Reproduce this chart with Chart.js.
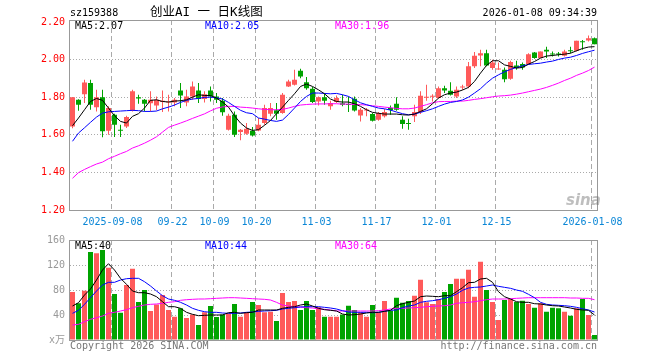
<!DOCTYPE html>
<html>
<head>
<meta charset="utf-8">
<script src="https://cdn.jsdelivr.net/npm/chart.js"></script>
<style>
    body { margin: 0; background: #fff; }
    #wrap { position: relative; width: 660px; height: 360px; overflow: hidden; font-family: 'DejaVu Sans Mono', 'Noto Sans CJK SC', monospace; font-size: 10px; }
    canvas { position: absolute; left: 0; top: 0; }
    .txt { position: absolute; line-height: 12px; white-space: pre; }
</style>
</head>
<body>
<div id="wrap">
    <canvas id="kline" width="660" height="360"></canvas>
    <canvas id="volume" width="660" height="360"></canvas>
    <div class="txt" style="left:70px; top:7px; color:#000;">sz159388</div>
    <div class="txt" style="left:150px; top:5px; font-size:12.5px; line-height:14px; color:#000; font-family:'DejaVu Sans Mono','Noto Sans CJK SC',monospace;">创业AI 一 日K线图</div>
    <div class="txt" style="left:0; width:597px; text-align:right; top:7px; color:#000;">2026-01-08 09:34:39</div>
    <div class="txt" style="left:75px; top:20px; color:#000;">MA5:2.07</div>
    <div class="txt" style="left:205px; top:20px; color:#0000ff;">MA10:2.05</div>
    <div class="txt" style="left:335px; top:20px; color:#ff00ff;">MA30:1.96</div>
    <div class="txt" style="left:75px; top:240px; color:#000;">MA5:40</div>
    <div class="txt" style="left:205px; top:240px; color:#0000ff;">MA10:44</div>
    <div class="txt" style="left:335px; top:240px; color:#ff00ff;">MA30:64</div>
    <div class="txt" style="left:70px; top:340px; color:#777;">Copyright 2026 SINA.COM</div>
    <div class="txt" style="left:0; width:597px; text-align:right; top:340px; color:#777;">http://finance.sina.com.cn</div>
    <div class="txt" style="left:566px; top:192px; font-family:'DejaVu Sans',sans-serif; font-size:15px; line-height:16px; font-weight:bold; font-style:italic; color:rgba(110,110,110,0.45);">sina</div>
</div>
<script>
// trading days shown on the chart
const dates = [
    '2025-08-28', '2025-08-29',
    '2025-09-01', '2025-09-02', '2025-09-03', '2025-09-04', '2025-09-05',
    '2025-09-08', '2025-09-09', '2025-09-10', '2025-09-11', '2025-09-12',
    '2025-09-15', '2025-09-16', '2025-09-17', '2025-09-18', '2025-09-19',
    '2025-09-22', '2025-09-23', '2025-09-24', '2025-09-25', '2025-09-26',
    '2025-09-29', '2025-09-30', '2025-10-09', '2025-10-10',
    '2025-10-13', '2025-10-14', '2025-10-15', '2025-10-16', '2025-10-17',
    '2025-10-20', '2025-10-21', '2025-10-22', '2025-10-23', '2025-10-24',
    '2025-10-27', '2025-10-28', '2025-10-29', '2025-10-30', '2025-10-31',
    '2025-11-03', '2025-11-04', '2025-11-05', '2025-11-06', '2025-11-07',
    '2025-11-10', '2025-11-11', '2025-11-12', '2025-11-13', '2025-11-14',
    '2025-11-17', '2025-11-18', '2025-11-19', '2025-11-20', '2025-11-21',
    '2025-11-24', '2025-11-25', '2025-11-26', '2025-11-27', '2025-11-28',
    '2025-12-01', '2025-12-02', '2025-12-03', '2025-12-04', '2025-12-05',
    '2025-12-08', '2025-12-09', '2025-12-10', '2025-12-11', '2025-12-12',
    '2025-12-15', '2025-12-16', '2025-12-17', '2025-12-18', '2025-12-19',
    '2025-12-22', '2025-12-23', '2025-12-24', '2025-12-25', '2025-12-26',
    '2025-12-29', '2025-12-30', '2025-12-31',
    '2026-01-05', '2026-01-06', '2026-01-07', '2026-01-08'
];

const opens = [
    1.645, 1.787, 1.817, 1.876, 1.747, 1.801, 1.622, 1.707, 1.628, 1.645,
    1.729, 1.801, 1.787, 1.769, 1.757, 1.775, 1.773, 1.773, 1.837, 1.773,
    1.805, 1.837, 1.791, 1.837, 1.805, 1.782, 1.628, 1.707, 1.615, 1.606,
    1.622, 1.624, 1.663, 1.713, 1.731, 1.716, 1.858, 1.867, 1.942, 1.881,
    1.846, 1.778, 1.800, 1.752, 1.775, 1.768, 1.764, 1.793, 1.704, 1.730,
    1.711, 1.681, 1.699, 1.743, 1.766, 1.681, 1.661, 1.699, 1.722, 1.798,
    1.803, 1.796, 1.849, 1.835, 1.805, 1.853, 1.858, 1.965, 2.023, 2.035,
    1.956, 1.949, 1.947, 1.899, 1.970, 1.977, 1.977, 2.039, 2.009, 2.053,
    2.034, 2.034, 2.021, 2.051, 2.048, 2.099, 2.103, 2.115
];
const closes = [
    1.800, 1.761, 1.879, 1.761, 1.801, 1.619, 1.743, 1.654, 1.622, 1.695,
    1.832, 1.794, 1.766, 1.787, 1.787, 1.782, 1.778, 1.787, 1.810, 1.805,
    1.858, 1.791, 1.817, 1.805, 1.787, 1.720, 1.702, 1.601, 1.628, 1.633,
    1.597, 1.654, 1.743, 1.743, 1.713, 1.814, 1.885, 1.894, 1.911, 1.849,
    1.775, 1.800, 1.782, 1.770, 1.796, 1.761, 1.759, 1.730, 1.734, 1.734,
    1.676, 1.716, 1.722, 1.732, 1.734, 1.658, 1.658, 1.722, 1.809, 1.801,
    1.807, 1.849, 1.837, 1.814, 1.840, 1.858, 1.965, 2.021, 2.035, 1.970,
    1.986, 1.952, 1.897, 1.988, 1.956, 1.959, 2.030, 2.009, 2.044, 2.044,
    2.028, 2.028, 2.044, 2.046, 2.101, 2.094, 2.115, 2.083
];
const highs = [
    1.802, 1.790, 1.894, 1.894, 1.840, 1.840, 1.752, 1.713, 1.654, 1.702,
    1.840, 1.814, 1.791, 1.832, 1.805, 1.837, 1.814, 1.796, 1.876, 1.840,
    1.885, 1.876, 1.832, 1.858, 1.823, 1.796, 1.713, 1.725, 1.631, 1.663,
    1.642, 1.690, 1.761, 1.770, 1.770, 1.823, 1.894, 1.947, 1.952, 1.908,
    1.855, 1.805, 1.819, 1.782, 1.810, 1.814, 1.805, 1.805, 1.743, 1.743,
    1.716, 1.722, 1.738, 1.757, 1.800, 1.699, 1.686, 1.761, 1.832, 1.867,
    1.817, 1.858, 1.862, 1.881, 1.858, 1.867, 1.988, 2.041, 2.053, 2.053,
    2.000, 1.986, 1.959, 1.995, 1.995, 1.986, 2.035, 2.041, 2.044, 2.069,
    2.044, 2.041, 2.053, 2.069, 2.101, 2.106, 2.129, 2.119
];
const lows = [
    1.635, 1.729, 1.770, 1.734, 1.725, 1.587, 1.601, 1.589, 1.589, 1.637,
    1.725, 1.766, 1.725, 1.725, 1.731, 1.722, 1.725, 1.752, 1.743, 1.752,
    1.787, 1.770, 1.773, 1.778, 1.770, 1.702, 1.624, 1.589, 1.571, 1.601,
    1.592, 1.619, 1.654, 1.699, 1.681, 1.713, 1.855, 1.863, 1.902, 1.840,
    1.770, 1.757, 1.761, 1.734, 1.770, 1.752, 1.722, 1.725, 1.672, 1.699,
    1.672, 1.676, 1.693, 1.707, 1.729, 1.633, 1.628, 1.669, 1.711, 1.782,
    1.778, 1.793, 1.823, 1.810, 1.796, 1.840, 1.849, 1.956, 1.965, 1.965,
    1.947, 1.947, 1.881, 1.894, 1.947, 1.947, 1.973, 2.005, 2.009, 2.009,
    2.018, 2.018, 2.018, 2.035, 2.044, 2.053, 2.098, 2.083
];

const ma5 = [
    1.649, 1.690, 1.734, 1.778, 1.794, 1.784, 1.743, 1.702, 1.672, 1.663,
    1.699, 1.713, 1.743, 1.784, 1.787, 1.778, 1.775, 1.780, 1.782, 1.787,
    1.801, 1.814, 1.810, 1.810, 1.796, 1.775, 1.748, 1.702, 1.663, 1.637,
    1.624, 1.628, 1.651, 1.677, 1.713, 1.748, 1.784, 1.819, 1.858, 1.871,
    1.858, 1.840, 1.819, 1.791, 1.778, 1.775, 1.775, 1.766, 1.752, 1.734,
    1.720, 1.715, 1.711, 1.711, 1.711, 1.707, 1.706, 1.711, 1.725, 1.739,
    1.766, 1.796, 1.814, 1.823, 1.828, 1.839, 1.853, 1.885, 1.929, 1.970,
    1.995, 1.995, 1.973, 1.965, 1.956, 1.959, 1.977, 1.991, 2.009, 2.020,
    2.023, 2.027, 2.030, 2.035, 2.048, 2.060, 2.068, 2.070
];
const ma10 = [
    1.566, 1.610, 1.638, 1.667, 1.695, 1.716, 1.723, 1.725, 1.727, 1.729,
    1.731, 1.729, 1.725, 1.725, 1.727, 1.739, 1.748, 1.759, 1.773, 1.784,
    1.791, 1.794, 1.800, 1.801, 1.798, 1.791, 1.773, 1.752, 1.731, 1.718,
    1.713, 1.690, 1.684, 1.677, 1.672, 1.679, 1.709, 1.743, 1.778, 1.805,
    1.823, 1.823, 1.821, 1.819, 1.821, 1.814, 1.805, 1.787, 1.771, 1.761,
    1.752, 1.743, 1.739, 1.732, 1.722, 1.713, 1.707, 1.711, 1.720, 1.729,
    1.739, 1.752, 1.764, 1.773, 1.778, 1.786, 1.801, 1.823, 1.846, 1.876,
    1.902, 1.920, 1.936, 1.949, 1.959, 1.968, 1.975, 1.979, 1.982, 1.988,
    1.993, 2.002, 2.009, 2.014, 2.023, 2.034, 2.043, 2.051
];
const ma30 = [
    1.369, 1.399, 1.416, 1.431, 1.445, 1.455, 1.473, 1.486, 1.500, 1.512,
    1.530, 1.542, 1.556, 1.572, 1.590, 1.615, 1.640, 1.652, 1.663, 1.675,
    1.688, 1.700, 1.712, 1.728, 1.742, 1.749, 1.752, 1.752, 1.748, 1.746,
    1.743, 1.739, 1.736, 1.734, 1.734, 1.736, 1.743, 1.752, 1.759, 1.762,
    1.764, 1.765, 1.765, 1.766, 1.766, 1.764, 1.764, 1.762, 1.761, 1.759,
    1.755, 1.752, 1.748, 1.745, 1.741, 1.739, 1.739, 1.743, 1.752, 1.761,
    1.771, 1.777, 1.778, 1.778, 1.780, 1.780, 1.784, 1.789, 1.793, 1.798,
    1.803, 1.807, 1.809, 1.812, 1.817, 1.823, 1.830, 1.837, 1.844, 1.853,
    1.864, 1.876, 1.890, 1.902, 1.917, 1.929, 1.943, 1.961
];

// volume in 万
const volumes = [
    77, 58.7, 79, 141, 139, 144, 115.7, 73.6, 43.7, 88,
    114, 60.8, 80, 46.4, 57, 72, 48, 37.3, 50.7, 35.2,
    41, 24, 44.3, 54.4, 36.8, 41, 42.7, 57.6, 37.3, 44.3,
    60.8, 56, 44.3, 45.3, 30.4, 75.2, 60.8, 62.4, 48, 62.4,
    48, 52.3, 37.3, 37.3, 37.3, 41, 54.7, 48, 44.3, 37.3,
    56, 44.3, 62.4, 47, 67.7, 59.7, 62.4, 70.9, 96.5, 60.3,
    57.6, 65.6, 76.8, 89.6, 98, 98, 112.5, 69.3, 125.3, 80,
    60.8, 32, 64, 65.6, 60.8, 62.9, 57.6, 51.7, 58.7, 45.3,
    51.7, 50.7, 45.3, 38.9, 50.7, 65.6, 40, 8
];
const volMa5 = [
    54.4, 59.7, 72, 81.6, 96, 112, 122.1, 112, 98.7, 89.1,
    78.4, 75.7, 75.7, 73.6, 69.3, 61.3, 53.3, 53.3, 50.7, 44.3,
    41.1, 38.9, 39.5, 40, 40, 40, 43.7, 44.3, 42.7, 43.7,
    44.3, 48, 48, 48, 48, 50.7, 52.3, 53.3, 56, 57.6,
    54.4, 50.7, 48.5, 47.5, 46.4, 41.6, 40, 40.5, 41.6, 43.2,
    44.3, 44.3, 45.9, 47.5, 54.9, 58.1, 60.3, 62.4, 69.3, 70.4,
    69.9, 69.3, 70.9, 70.9, 77.3, 83.7, 91.7, 92.3, 97.6, 98.7,
    92.3, 77.3, 69.3, 65.6, 61.3, 60.3, 60.3, 58.1, 57.6, 56,
    54.9, 54.4, 52.8, 51.2, 49.1, 48, 47.5, 40
];
const volMa10 = [
    42.7, 47.5, 57.1, 67.7, 78.4, 88, 92.3, 92.3, 96, 98.1,
    98.7, 98.7, 93.3, 86.4, 78.4, 70.9, 65.6, 63.5, 60.3, 56,
    50.7, 47.5, 45.3, 44.3, 44.3, 43.2, 42.7, 42.7, 43.2, 44.3,
    44.8, 45.9, 46.4, 46.9, 47.5, 49.6, 50.7, 51.7, 52.8, 53.3,
    53.3, 53.3, 52.3, 51.2, 49.6, 46.9, 44.8, 44.3, 44.3, 44.3,
    43.7, 44.3, 45.9, 47.5, 48, 51.7, 54.4, 56, 60.3, 61.9,
    62.9, 64.5, 66.7, 69.3, 73.6, 79.5, 83.2, 84.3, 84.8, 86.4,
    88, 85.9, 84.3, 82.7, 80, 77.9, 73.1, 67.7, 60.3, 57.1,
    56, 55.5, 54.9, 53.9, 52.3, 50.1, 48, 44.8
];
const volMa30 = [
    24, 25.1, 29.3, 33.1, 35.7, 38.4, 42.7, 44.3, 46.4, 48.5,
    51.7, 53.9, 56, 57.1, 57.6, 58.7, 60.3, 61.3, 63.5, 64.5,
    65.1, 65.6, 65.6, 66.1, 66.7, 67.2, 67.7, 67.7, 67.2, 66.7,
    66.1, 65.6, 65.1, 64, 60.3, 56, 54.4, 53.3, 52.8, 51.7,
    51.2, 50.1, 49.1, 48, 46.4, 46.4, 46.4, 46.4, 46.4, 46.4,
    46.4, 46.9, 48, 49.6, 50.7, 50.7, 51.2, 51.7, 52.3, 53.3,
    53.9, 54.4, 54.9, 56, 58.7, 59.7, 60.3, 61.3, 62.9, 64.5,
    65.6, 65.6, 65.6, 66.1, 66.7, 67.2, 67.7, 67.7, 67.7, 67.7,
    67.7, 67.7, 67.7, 67.2, 67.2, 66.7, 66.7, 64.5
];

// axis ticks
const priceTicks = [1.2, 1.4, 1.6, 1.8, 2.0, 2.2];
const volumeTicks = [0, 40, 80, 120, 160];
const tickDates = ['2025-09-08', '2025-09-22', '2025-10-09', '2025-10-20', '2025-11-03',
    '2025-11-17', '2025-12-01', '2025-12-15', '2026-01-08'];
const tickTexts = ['2025-09-08', '09-22', '10-09', '10-20', '11-03',
    '11-17', '12-01', '12-15', '2026-01-08'];

const RED = '#ff5a5a';
const GREEN = '#00a300';
const GRID = '#aaaaaa';
const MONO = "'DejaVu Sans Mono', 'Noto Sans CJK SC', monospace";

const candleColors = opens.map((o, i) => closes[i] >= o ? RED : GREEN);
const bodies = opens.map((o, i) => [o, closes[i]]);
const wicks = lows.map((l, i) => [l, highs[i]]);
const tickIndex = tickDates.map(d => dates.indexOf(d));

const framePlugin = {
    id: 'frame',
    afterDraw(chart) {
        const a = chart.chartArea;
        const ctx = chart.ctx;
        ctx.save();
        ctx.strokeStyle = '#999999';
        ctx.lineWidth = 1;
        const l = Math.floor(a.left) + 0.5, r = Math.floor(a.right) + 0.5;
        const t = Math.floor(a.top) + 0.5, b = Math.floor(a.bottom) + 0.5;
        ctx.strokeRect(l, t, r - l, b - t);
        ctx.restore();
    }
};

function xScale(showLabels) {
    return {
        offset: true,
        grid: {
            offset: true,
            drawTicks: false,
            lineWidth: 1,
            color: ctx => tickIndex.includes(ctx.index) ? GRID : 'rgba(0,0,0,0)'
        },
        border: { display: false, dash: [5, 3] },
        ticks: {
            display: showLabels,
            autoSkip: false,
            maxRotation: 0,
            minRotation: 0,
            padding: 6,
            labelOffset: -2,
            color: '#0a86d6',
            font: { family: MONO, size: 10 },
            callback: function(val, i) {
                const k = tickIndex.indexOf(i);
                return k >= 0 ? tickTexts[k] : '';
            }
        },
        afterFit: scale => { scale.height = showLabels ? 25 : 0; }
    };
}

function yScale(min, max, ticks, color, fmt) {
    return {
        min: min,
        max: max,
        grid: {
            drawTicks: false,
            color: ctx => (ctx.tick && ctx.tick.value > min && ctx.tick.value < ticks[ticks.length - 1]) ? GRID : 'rgba(0,0,0,0)'
        },
        border: { display: false, dash: [1, 2] },
        afterBuildTicks: scale => { scale.ticks = ticks.map(v => ({ value: v })); },
        afterFit: scale => { scale.width = 69.5; },
        ticks: {
            padding: 4.5,
            color: color,
            font: { family: MONO, size: 10 },
            callback: fmt
        }
    };
}

function lineSet(data, color) {
    return {
        type: 'line',
        data: data,
        borderColor: color,
        borderWidth: 1,
        pointRadius: 0,
        tension: 0,
        fill: false,
        order: 0
    };
}

new Chart(document.getElementById('kline'), {
    type: 'bar',
    data: {
        labels: dates,
        datasets: [
            lineSet(ma5, '#000000'),
            lineSet(ma10, '#0000ff'),
            lineSet(ma30, '#ff00ff'),
            {
                data: wicks,
                backgroundColor: candleColors,
                barThickness: 1,
                grouped: false,
                inflateAmount: 0,
                order: 2
            },
            {
                data: bodies,
                backgroundColor: candleColors,
                barThickness: 5,
                minBarLength: 1,
                grouped: false,
                inflateAmount: 0,
                order: 1
            }
        ]
    },
    options: {
        animation: false,
        responsive: false,
        devicePixelRatio: 1,
        layout: { padding: { top: 20, right: 62.5, bottom: 125, left: 0 } },
        plugins: { legend: { display: false }, tooltip: { enabled: false } },
        scales: {
            x: xScale(true),
            y: yScale(1.2, 2.212, priceTicks, '#ff0000', v => v.toFixed(2))
        }
    },
    plugins: [framePlugin]
});

new Chart(document.getElementById('volume'), {
    type: 'bar',
    data: {
        labels: dates,
        datasets: [
            lineSet(volMa5, '#000000'),
            lineSet(volMa10, '#0000ff'),
            lineSet(volMa30, '#ff00ff'),
            {
                data: volumes,
                backgroundColor: candleColors,
                barThickness: 5,
                grouped: false,
                inflateAmount: 0,
                order: 1
            }
        ]
    },
    options: {
        animation: false,
        responsive: false,
        devicePixelRatio: 1,
        layout: { padding: { top: 240, right: 62.5, bottom: 20, left: 0 } },
        plugins: { legend: { display: false }, tooltip: { enabled: false } },
        scales: {
            x: xScale(false),
            y: yScale(0, 160, volumeTicks, '#999999', v => v === 0 ? 'x万' : String(v))
        }
    },
    plugins: [framePlugin]
});
</script>
</body>
</html>
